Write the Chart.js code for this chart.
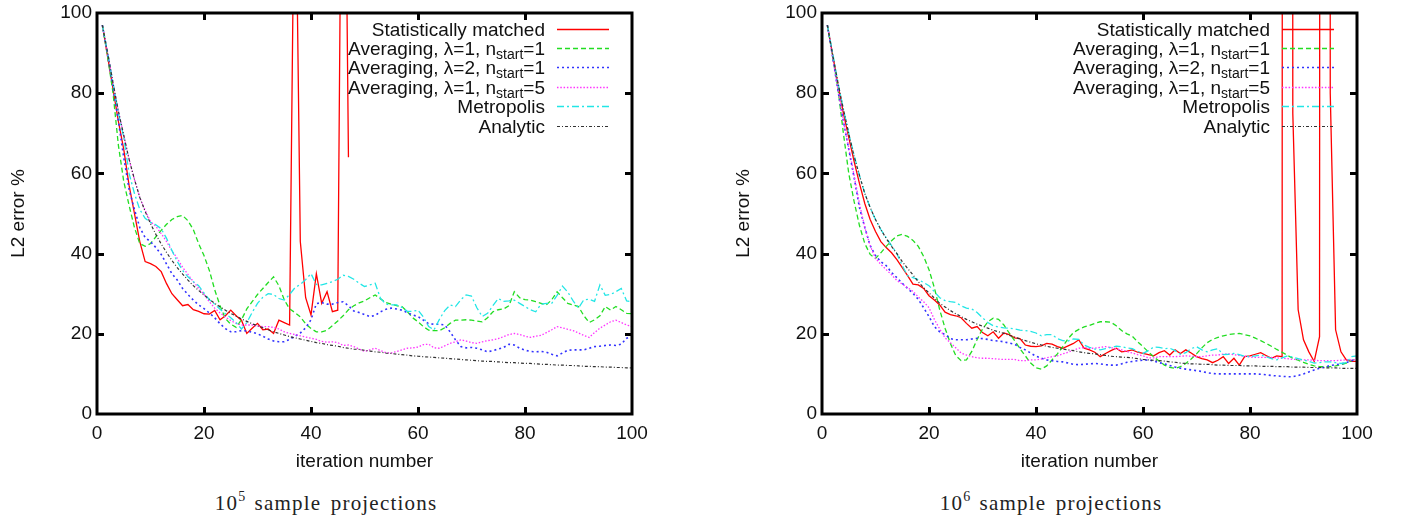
<!DOCTYPE html>
<html><head><meta charset="utf-8">
<script src="https://cdn.jsdelivr.net/npm/chart.js@4.4.1/dist/chart.umd.min.js"></script>
<style>
html,body{margin:0;padding:0;background:#fff;}
body{width:1406px;height:523px;position:relative;overflow:hidden;}
canvas{position:absolute;top:0;}
#c1{left:0;} #c2{left:725px;}
.cap{position:absolute;top:490px;height:26px;line-height:26px;width:400px;text-align:center;font-family:'Liberation Serif','Times New Roman',serif;font-size:21px;color:#222;letter-spacing:1.2px;word-spacing:3px;white-space:nowrap;}
.cap sup{font-size:14px;vertical-align:0;position:relative;top:-9px;letter-spacing:0;}
</style></head>
<body>
<canvas id="c1" width="681" height="480"></canvas>
<canvas id="c2" width="681" height="480"></canvas>
<div class="cap" style="left:126px">10<sup>5</sup> sample projections</div>
<div class="cap" style="left:851px">10<sup>6</sup> sample projections</div>
<script>
// ---------- data ----------
const ITER = [1,2,3,4,5,6,7,8,9,10,11,12,13,14,15,16,17,18,19,20,21,22,23,24,25,26,27,28,29,30,31,32,33,34,35,36,37,38,39,40,41,42,43,44,45,46,47,48,49,50,51,52,53,54,55,56,57,58,59,60,61,62,63,64,65,66,67,68,69,70,71,72,73,74,75,76,77,78,79,80,81,82,83,84,85,86,87,88,89,90,91,92,93,94,95,96,97,98,99,100];
const X_TICKS = [0,20,40,60,80,100];
const Y_TICKS = [0,20,40,60,80,100];
const SERIES_NAMES = [
  ['Statistically matched'],
  ['Averaging, \u03bb=1, n','start','=1'],
  ['Averaging, \u03bb=2, n','start','=1'],
  ['Averaging, \u03bb=1, n','start','=5'],
  ['Metropolis'],
  ['Analytic']
];

// 10^5 sample projections (left)
const L_RED = [97,89,81,73,66,57,50,43,38,37.5, 36.8,35.5,32.5,30,28.5,27,27.3,26,25.6,25, 24.9,25.8,23.5,24.5,25.9,24.5,23.4,20.1,21.4,22.6, 21,21.2,20.1,23.4,22.8,22.2,150,43,29,24.7, 35,27.6,30.5,25.5,25.9,200,64];
const L_GREEN = [97,89,80,67,58,52,46.5,42.5,41.8,42.5, 44.2,45.8,47.3,48.5,49.2,49.5,48.2,46,42.5,39.5, 35.8,31,27,23.8,22.4,21.6,23.5,26.2,28,29.8, 31.3,32.8,34.2,32,28.5,26.2,25.3,24.2,22.5,21.3, 20.5,20.5,20.9,22,23.2,24.5,26,27,27.7,28.2, 29,29.7,28.7,27.8,27.4,27,26.8,25.5,24,23, 21.8,20.9,20.8,20.8,21.5,22.6,23.4,23.4,23.5,23.4, 23.2,23,24,25.5,26,26.2,27,30.5,29,28.5, 28.4,28,27.6,27.2,28.5,30.5,29,27.6,27.2,26.8, 24.5,22.8,23.5,24.5,26.8,25.9,26.8,26,25.1,25];
const L_BLUE = [97,89.5,81.5,73,64,56,51,46.5,44,43, 41.5,39.8,37.4,35,33.4,31.3,29.8,28.4,27.2,26.3, 25.2,24,22.5,21.3,20.5,20.5,20.8,20.7,20.4,20, 19.4,18.7,18.2,18,18,18.6,19.4,20.2,21.5,23.5, 27.5,27.8,27.4,27.4,27.8,28,27,25.7,25.3,24.8, 24.3,24.6,25.5,26.1,26.4,26.2,25.9,25.3,24.7,24.3, 23.4,22.5,22.4,22.4,22.2,20.5,18.5,16.8,16.5,16.6, 16.4,16,15.5,15.8,16.2,16.6,17.4,17.2,16.4,15.9, 15.6,15.5,15.6,15.4,14.9,14.5,15.2,15.9,16,16, 16,16.4,16.8,16.9,17.1,17.2,17.1,17.4,18.9,19.3];
const L_MAGENTA = [97,90,82.5,75.5,69.5,63.5,58.5,54,50.8,48, 46.8,45,43,40.7,38.8,36.6,34.8,33,31.4,29.8, 28,26.4,25.2,24.2,23.3,22.6,22.2,22.2,22.2,21.9, 21.8,21.8,21.6,21.2,20.5,20.1,19.8,19.5,19.2,18.9, 18.6,18.1,17.9,18,17.8,17.1,17.2,16.8,16.2,15.6, 16,16.4,15.8,15.3,15.2,15.6,16,16.4,16.5,16.7, 17.3,17.4,16.5,16.4,17,17.6,18,18.5,18.2,17.8, 17.6,18,18.3,18.5,18.8,19.3,19.8,20.1,19.8,19.4, 19.1,19.4,19.6,20.3,21,21.8,21.5,21.1,20.8,20.2, 19.6,19.1,20.3,21.4,22.2,23,23.4,22.8,22.2,21.8];
const L_CYAN = [97,90,82.5,75,69,60,55,51,48.8,47.8, 47.2,46.2,43.8,40.8,38,35.8,34.2,33,32,30.2, 28.5,27.4,26.1,25,24,22.8,21.2,22.8,25.3,27.6, 29.1,30,29.8,28.8,28.4,29.8,31.5,32.3,33.5,35, 32.3,32.2,32.6,33,33.6,34.6,34.3,33.6,32.6,31.8, 32.2,32.6,28.8,27.4,27.2,27.2,26.6,25.6,25.6,25.9, 24.2,21.8,21,23.6,25.8,27.2,26.8,28.5,29.7,29.4, 26.5,24.3,25.1,27,28.8,28.1,28.2,28.4,27.6,26.8, 26,25.5,27.4,27.6,27.6,29.6,31.9,30.4,28.2,26.4, 28.5,28.6,28.1,32.2,29.6,29.8,30.5,31.3,28.2,28];
const L_ANALYTIC = [97,90,82.5,75.5,69.5,63.5,58.5,54,50.5,47.5, 44.8,42.4,40.3,38.3,36.5,34.9,33.4,32,30.8,29.7, 28.6,27.6,26.7,25.9,25.1,24.4,23.7,23.1,22.5,22, 21.5,21,20.5,20.1,19.7,19.3,19,18.7,18.4,18.1, 17.8,17.6,17.3,17.1,16.9,16.6,16.4,16.2,16.1,15.9, 15.7,15.5,15.4,15.2,15.1,14.9,14.8,14.7,14.5,14.4, 14.3,14.2,14.1,14,13.9,13.8,13.7,13.6,13.5,13.4, 13.3,13.2,13.1,13.1,13,12.9,12.8,12.8,12.7,12.6, 12.6,12.5,12.4,12.4,12.3,12.2,12.2,12.1,12.1,12, 11.9,11.9,11.8,11.8,11.7,11.7,11.6,11.6,11.5,11.5];

// 10^6 sample projections (right)
const R_RED = [97,89.5,82,75,69,63,57.5,52.5,48.5,45.5, 43,41.5,40.2,38.5,36.5,34.5,32.4,32.2,31.3,29.5, 28.4,27.2,25.4,24.8,24.5,24,22.6,21.4,21.8,20.3, 19.5,20.5,18.9,20.2,19.8,19,18.8,17.2,16.9,16.8, 17,17.6,17.4,16.8,16.4,17,17.6,18.5,16.4,16, 15.4,14.3,15.1,15.8,16.4,15.5,15.7,16,15.4,15.1, 14.8,14.5,15.3,15.8,14.7,16,15.1,16,15.2,14.3, 13.8,13.5,12.8,13.4,14.3,12.6,13.9,12.2,14.3,14.5, 14.9,15.3,14.6,13.9,14.5,14.3,3000,75,26,18.5, 15.5,13.1,19.3,3000,80,21,15.5,13.5,13.1,13.1];
const R_GREEN = [97,89,81,70,60,53,47,42.5,39.8,38.8, 40.2,41.8,43.2,44.4,44.8,44.3,43.3,41.8,39.3,36, 31.5,26,21.4,17.6,14.6,13.3,13.5,15.6,18.6,21.2, 23,23.9,23.6,22.2,20.2,18.3,16.3,14.5,12.7,11.5, 11.2,12,13.5,15,16.8,18.8,20.3,21.1,21.7,22.1, 22.6,23,23,22.9,22,20.8,20,19.4,18,16.8, 15.5,14.3,13.2,12.2,11.6,11.4,11.8,12.6,13.7,15, 16.5,17.8,18.6,19.1,19.5,19.8,20,20.1,19.8,19.5, 18.9,18.3,17.6,16.9,16.1,15.4,14.6,13.9,13.4,12.9, 12.4,12,11.8,11.8,11.8,12,12.3,12.7,13.3,13.9];
const R_BLUE = [97,89,80.5,73,66,59,51.5,46.5,42,39.5, 38,37,35.3,34,32.6,31.3,30.1,28.6,26.5,24.3, 21.8,20.5,19.8,18.8,18.5,18.5,18.5,18.7,18.9,18.8, 18.6,18.3,18.2,18,17.7,17.4,16.6,16,15.2,14.4, 13.9,13.5,13.3,13.1,13,12.7,12.4,12.3,12.4,12.5, 12.6,12.5,12.3,12.2,12.2,12.5,12.9,13.1,13.3,13.4, 13.5,13.2,12.8,12.5,12.1,11.7,11.4,11.2,11,10.8, 10.6,10.3,10.1,10,10,10,10,10,10,10, 10,9.9,9.8,9.6,9.5,9.4,9.3,9.3,9.6,10, 10.5,11,11.4,11.7,12.1,12.3,12.5,12.8,13.3,13.7];
const R_MAGENTA = [97,89,81,73,66.5,59.5,52.5,46.5,42,38.8, 37.3,36,34.7,33.3,32.4,31.5,30.6,29.2,28,26.5, 23.6,21.2,19,17.8,16.5,15.2,14.7,14.3,14,13.9, 13.9,13.8,13.7,13.6,13.6,13.6,13.3,13.3,13.5,13.5, 13.7,14,14.3,14.5,15,15.4,15.9,16.4,16.6,16.4, 16.4,16.6,16.8,16.6,16.2,16,15.6,15.2,14.8,14.5, 14,14,14.3,14.3,14.3,14.3,14.4,14.5,14.4,14.3, 14.3,14.5,14.7,14.7,14.9,15,14.8,14.6,14.4,14.2, 14.1,14.1,14.1,14.1,14,13.9,13.8,13.6,13.6,13.5, 13.5,13.4,13.3,13.3,13.3,13.3,13.4,13.5,13.5,13.6];
const R_CYAN = [97,90,82.5,76,70,64.5,59.5,55,51.5,48.5, 46,44,42,40,37,34.5,34,33.5,32.8,32, 30.5,29,28.3,28,27.8,27,26.4,26.2,25.3,24, 22.8,22,21.7,21.5,21.4,21.2,20.9,20.8,20.6,20.2, 19.5,19.8,19.8,18.8,18.3,18.2,18.7,18.6,17.2,16.6, 16.2,16,16.3,16.6,16.9,16.8,16.5,16.3,15.6,15.1, 15.8,16.7,16.6,16.3,16.4,15.8,14.9,15.3,16.3,16.8, 16,15.5,16,16.3,14.8,14.9,15.1,14.8,14.4,14.3, 14.5,14.7,14.3,13.8,13.5,14,14.5,14.2,13.8,13.5, 13.1,12.7,12.8,13,13,12.8,12.6,12.8,14.3,14.5];
const R_ANALYTIC = [97,89.5,82.5,76,70,64.2,59.5,55,51.5,48.5, 46,43.8,41.8,40,38,36.3,34.7,33,31.5,30.2, 28.9,27.6,26.7,25.8,25,24.3,23.6,23,22.4,21.9, 21.4,20.9,20.5,20.1,19.6,19.2,18.7,18.3,17.9,17.5, 17.2,16.9,16.6,16.4,16.2,16,15.8,15.5,15.3,15.1, 15,14.8,14.6,14.4,14.3,14.2,14.1,14,13.8,13.6, 13.5,13.4,13.3,13.2,13,12.9,12.7,12.6,12.5,12.5, 12.4,12.4,12.3,12.2,12.2,12.1,12.1,12.1,12,12, 12,11.9,11.9,11.9,11.8,11.8,11.8,11.7,11.7,11.7, 11.6,11.6,11.6,11.5,11.5,11.5,11.4,11.4,11.4,11.4];

// ---------- styles ----------
const FONT = "'Liberation Sans', Arial, Helvetica, sans-serif";
const STYLES = [
  {color:'#ff0000', dash:[], width:1.3},
  {color:'#22dd22', dash:[5,3], width:1.3},
  {color:'#3333ff', dash:[2,3], width:1.6},
  {color:'#ff33ff', dash:[1.5,1.8], width:1.3},
  {color:'#22e6e6', dash:[7,3,2,3], width:1.3},
  {color:'#333333', dash:[3,2,1,2], width:1.2}
];

function pts(arr){ return arr.map((v,i)=>({x:ITER[i], y:v})); }

const framePlugin = {
  id:'frameLegend',
  afterDatasetsDraw(chart){
    const {ctx, chartArea:a, scales} = chart;
    const x = scales.x, y = scales.y;
    ctx.save();
    ctx.strokeStyle = '#000';
    ctx.lineWidth = 3;
    ctx.beginPath();
    X_TICKS.forEach(v=>{
      if (v<=0 || v>=100) return;
      const p = Math.round(x.getPixelForValue(v))+0.5;
      ctx.moveTo(p, a.bottom); ctx.lineTo(p, a.bottom-7);
      ctx.moveTo(p, a.top); ctx.lineTo(p, a.top+7);
    });
    Y_TICKS.forEach(v=>{
      if (v<=0 || v>=100) return;
      const p = Math.round(y.getPixelForValue(v))+0.5;
      ctx.moveTo(a.left, p); ctx.lineTo(a.left+7, p);
      ctx.moveTo(a.right, p); ctx.lineTo(a.right-7, p);
    });
    ctx.stroke();
    ctx.strokeRect(a.left, a.top, a.right-a.left, a.bottom-a.top);
    ctx.restore();
  },
  afterDraw(chart){
    const {ctx, chartArea:a} = chart;
    ctx.save();
    const mainFont = '19px ' + FONT, subFont = '14px ' + FONT;
    SERIES_NAMES.forEach((parts,k)=>{
      const cy = a.top + 15.5 + k*19.4;
      const base = cy + 7;
      const fonts = parts.map((p,j)=> j===1 ? subFont : mainFont);
      let total = 0; const widths = [];
      parts.forEach((p,j)=>{ ctx.font = fonts[j]; const w = ctx.measureText(p).width; widths.push(w); total += w; });
      let xx = a.right - 87 - total;
      ctx.fillStyle = '#111';
      ctx.textBaseline = 'alphabetic';
      ctx.textAlign = 'left';
      parts.forEach((p,j)=>{
        ctx.font = fonts[j];
        ctx.fillText(p, xx, j===1 ? base+4 : base);
        xx += widths[j];
      });
      const st = STYLES[k];
      ctx.strokeStyle = st.color; ctx.lineWidth = st.width; ctx.setLineDash(st.dash);
      ctx.beginPath();
      ctx.moveTo(a.right-75, Math.round(cy)+0.5);
      ctx.lineTo(a.right-23, Math.round(cy)+0.5);
      ctx.stroke();
    });
    ctx.restore();
  }
};

function makeChart(id, seriesArrays){
  const datasets = seriesArrays.map((arr,k)=>({
    label: SERIES_NAMES[k].join(''),
    data: pts(arr),
    borderColor: STYLES[k].color,
    borderDash: STYLES[k].dash,
    borderWidth: STYLES[k].width,
    pointRadius: 0,
    tension: 0,
    fill: false,
    order: 6-k
  }));
  return new Chart(document.getElementById(id), {
    type:'line',
    data:{datasets},
    options:{
      responsive:false, animation:false, devicePixelRatio:1,
      layout:{padding:{top:13, right:49, left:0, bottom:0}},
      plugins:{legend:{display:false}, tooltip:{enabled:false}},
      scales:{
        x:{type:'linear', min:0, max:100,
           grid:{display:false, drawTicks:false}, border:{display:false},
           ticks:{stepSize:20, padding:8, color:'#111', font:{family:FONT, size:19}},
           title:{display:true, text:'iteration number', color:'#111', font:{family:FONT, size:19}, padding:{top:0,bottom:7}},
           afterFit(s){ s.height = 66; s.paddingLeft = 0; s.paddingRight = 0; }
        },
        y:{type:'linear', min:0, max:100,
           grid:{display:false, drawTicks:false}, border:{display:false},
           ticks:{stepSize:20, padding:5, color:'#111', font:{family:FONT, size:19}},
           title:{display:true, text:'L2 error %', color:'#111', font:{family:FONT, size:19}, padding:{top:7,bottom:0}},
           afterFit(s){ s.width = 97; s.paddingTop = 0; s.paddingBottom = 0; }
        }
      }
    },
    plugins:[framePlugin]
  });
}

makeChart('c1', [L_RED, L_GREEN, L_BLUE, L_MAGENTA, L_CYAN, L_ANALYTIC]);
makeChart('c2', [R_RED, R_GREEN, R_BLUE, R_MAGENTA, R_CYAN, R_ANALYTIC]);
</script>
</body></html>
